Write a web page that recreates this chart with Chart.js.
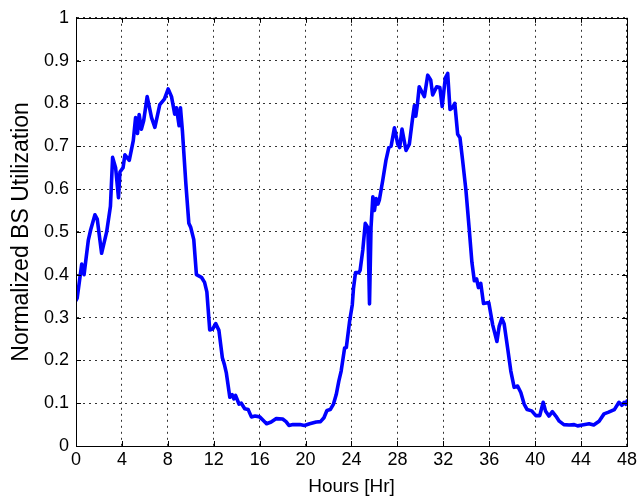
<!DOCTYPE html>
<html>
<head>
<meta charset="utf-8">
<script src="https://cdn.jsdelivr.net/npm/chart.js@4/dist/chart.umd.min.js"></script>
<style>
  html, body { margin: 0; padding: 0; background: #fff; }
  #wrap { width: 640px; height: 504px; position: relative; }
</style>
</head>
<body>
<div id="wrap"><canvas id="c" width="640" height="504"></canvas></div>
<script>
// Base-station utilization over two days (hours since start, normalized load)
const hours = [
  0.0, 0.1, 0.5, 0.7, 1.07, 1.28, 1.65, 1.85, 2.23, 2.67, 3.0, 3.19, 3.45, 3.7, 3.83,
  4.1, 4.26, 4.64, 4.99, 5.19, 5.36, 5.5, 5.7, 5.9, 6.2, 6.58, 6.87, 7.3, 7.7, 8.03,
  8.32, 8.6, 8.75, 8.98, 9.1, 9.27, 9.57, 9.83, 10.0, 10.26, 10.49, 10.93, 11.2, 11.4,
  11.65, 11.9, 12.17, 12.45, 12.75, 12.93, 13.1, 13.4, 13.6, 13.75, 13.9, 14.2, 14.4,
  14.7, 15.0, 15.28, 15.6, 16.0, 16.3, 16.6, 17.0, 17.45, 18.0, 18.3, 18.55, 18.9, 19.5,
  19.9, 20.35, 20.93, 21.3, 21.6, 21.86, 22.15, 22.43, 22.67, 22.9, 23.1, 23.4, 23.55,
  23.83, 24.07, 24.17, 24.35, 24.64, 24.75, 24.99, 25.2, 25.43, 25.57, 25.7, 25.86,
  26.0, 26.15, 26.3, 26.43, 26.72, 27.0, 27.25, 27.45, 27.74, 28.03, 28.2, 28.4, 28.75,
  29.04, 29.33, 29.48, 29.6, 29.75, 29.9, 30.35, 30.64, 30.9, 31.07, 31.42, 31.7, 31.9,
  32.17, 32.38, 32.58, 32.8, 33.0, 33.25, 33.45, 33.68, 33.97, 34.26, 34.49, 34.7, 34.9,
  35.06, 35.26, 35.5, 35.96, 36.3, 36.67, 36.87, 37.1, 37.3, 37.6, 37.88, 38.17, 38.47,
  38.75, 39.04, 39.3, 39.7, 40.06, 40.4, 40.7, 40.9, 41.2, 41.5, 41.8, 42.1, 42.5, 42.96,
  43.4, 43.7, 44.1, 44.7, 45.1, 45.57, 46.0, 46.4, 46.9, 47.3, 47.55, 47.75, 47.9, 48.0
];
const utilization = [
  0.34, 0.345, 0.425, 0.40, 0.48, 0.505, 0.54, 0.53, 0.45, 0.50, 0.56, 0.674, 0.65, 0.58, 0.64,
  0.65, 0.68, 0.667, 0.713, 0.767, 0.73, 0.774, 0.74, 0.76, 0.816, 0.767, 0.744, 0.797, 0.81, 0.834,
  0.816, 0.775, 0.79, 0.748, 0.79, 0.736, 0.613, 0.52, 0.51, 0.482, 0.40, 0.394, 0.382, 0.36,
  0.271, 0.273, 0.286, 0.27, 0.206, 0.19, 0.17, 0.114, 0.12, 0.11, 0.118, 0.098, 0.10,
  0.087, 0.085, 0.068, 0.07, 0.068, 0.06, 0.052, 0.056, 0.064, 0.063, 0.057, 0.048, 0.05, 0.05,
  0.048, 0.052, 0.056, 0.057, 0.066, 0.083, 0.085, 0.098, 0.12, 0.152, 0.175, 0.229, 0.23,
  0.29, 0.33, 0.367, 0.405, 0.405, 0.41, 0.459, 0.52, 0.51, 0.332, 0.51, 0.582,
  0.55, 0.578, 0.565, 0.575, 0.62, 0.667, 0.697, 0.70, 0.743, 0.705, 0.697, 0.74, 0.69,
  0.705, 0.767, 0.795, 0.77, 0.80, 0.839, 0.816, 0.866, 0.855, 0.82, 0.839, 0.837, 0.793,
  0.859, 0.87, 0.786, 0.79, 0.80, 0.728, 0.72, 0.667, 0.597, 0.505, 0.429, 0.386, 0.39,
  0.37, 0.38, 0.333, 0.335, 0.283, 0.244, 0.28, 0.298, 0.285, 0.229, 0.175, 0.137, 0.14,
  0.125, 0.098, 0.085, 0.082, 0.071, 0.071, 0.102, 0.082, 0.07, 0.08, 0.07, 0.058, 0.05, 0.049,
  0.05, 0.047, 0.049, 0.052, 0.049, 0.058, 0.075, 0.079, 0.085, 0.102, 0.095, 0.102, 0.097, 0.105
];
const xTicks = [0, 4, 8, 12, 16, 20, 24, 28, 32, 36, 40, 44, 48];
const yTicks = [0, 0.1, 0.2, 0.3, 0.4, 0.5, 0.6, 0.7, 0.8, 0.9, 1];
const yTickLabels = ['0', '0.1', '0.2', '0.3', '0.4', '0.5', '0.6', '0.7', '0.8', '0.9', '1'];
const xTitle = 'Hours [Hr]';
const yTitle = 'Normalized BS Utilization';

const FONT = "'Liberation Sans', Arial, Helvetica, sans-serif";

// Closed axes box with short inward tick marks on all four sides
const boxPlugin = {
  id: 'axesBox',
  afterDatasetsDraw(chart) {
    const { ctx, chartArea: a, scales: { x, y } } = chart;
    const len = 5;
    ctx.save();
    ctx.strokeStyle = '#000';
    ctx.lineWidth = 1;
    ctx.beginPath();
    x.ticks.forEach(t => {
      const px = Math.round(x.getPixelForValue(t.value)) + 0.5;
      ctx.moveTo(px, a.bottom); ctx.lineTo(px, a.bottom - len);
      ctx.moveTo(px, a.top); ctx.lineTo(px, a.top + len);
    });
    y.ticks.forEach(t => {
      const py = Math.round(y.getPixelForValue(t.value)) + 0.5;
      ctx.moveTo(a.left, py); ctx.lineTo(a.left + len, py);
      ctx.moveTo(a.right, py); ctx.lineTo(a.right - len, py);
    });
    ctx.stroke();
    ctx.strokeRect(Math.round(a.left) + 0.5, Math.round(a.top) + 0.5,
                   Math.round(a.right - a.left), Math.round(a.bottom - a.top));
    ctx.restore();
  }
};

new Chart(document.getElementById('c'), {
  type: 'scatter',
  data: {
    datasets: [{
      data: hours.map((h, i) => ({ x: h, y: utilization[i] })),
      showLine: true,
      borderColor: '#0000ff',
      borderWidth: 3.6,
      borderJoinStyle: 'round',
      borderCapStyle: 'round',
      pointRadius: 0,
      tension: 0,
      fill: false
    }]
  },
  options: {
    responsive: false,
    animation: false,
    events: [],
    layout: { padding: { top: 12, right: 12, left: 0, bottom: 0 } },
    plugins: { legend: { display: false }, tooltip: { enabled: false } },
    scales: {
      x: {
        type: 'linear',
        min: 0, max: 48,
        afterBuildTicks: s => { s.ticks = xTicks.map(v => ({ value: v })); },
        afterFit: s => { s.height = 58; },
        ticks: {
          color: '#000', padding: 3,
          font: { family: FONT, size: 18 },
          callback: v => String(v)
        },
        grid: {
          color: 'rgba(0,0,0,0.8)', lineWidth: 1,
          drawTicks: false
        },
        border: { display: true, color: '#000', dash: [2, 4] },
        title: {
          display: true, text: xTitle, color: '#000',
          font: { family: FONT, size: 19 },
          padding: { top: 0, bottom: 6 }
        }
      },
      y: {
        type: 'linear',
        min: 0, max: 1,
        afterBuildTicks: s => { s.ticks = yTicks.map(v => ({ value: v })); },
        afterFit: s => { s.width = 76; },
        ticks: {
          color: '#000', padding: 7,
          font: { family: FONT, size: 18 },
          callback: (v) => yTickLabels[yTicks.findIndex(t => Math.abs(t - v) < 1e-9)]
        },
        grid: {
          color: 'rgba(0,0,0,0.8)', lineWidth: 1,
          drawTicks: false
        },
        border: { display: true, color: '#000', dash: [2, 4] },
        title: {
          display: true, text: yTitle, color: '#000',
          font: { family: FONT, size: 23 },
          padding: { top: 8, bottom: 0 }
        }
      }
    }
  },
  plugins: [boxPlugin]
});
</script>
</body>
</html>
